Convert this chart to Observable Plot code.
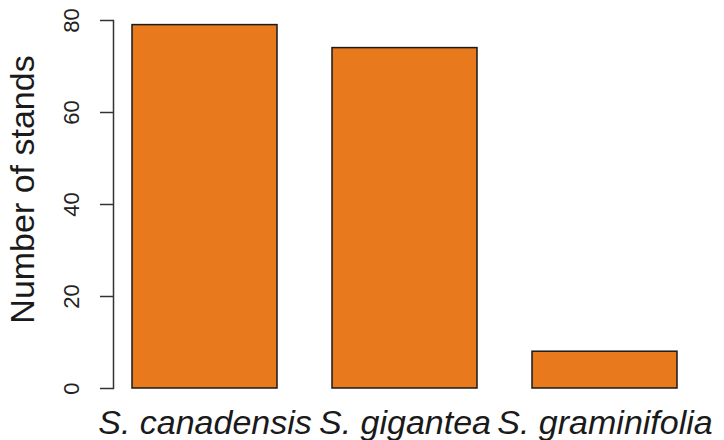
<!DOCTYPE html>
<html>
<head>
<meta charset="utf-8">
<script src="https://cdn.jsdelivr.net/npm/d3@7"></script>
<script src="https://cdn.jsdelivr.net/npm/@observablehq/plot@0.6"></script>
<style>
  html, body { margin: 0; padding: 0; background: #fff; }
  #chart svg { display: block; font-family: "Liberation Sans", Arial, Helvetica, sans-serif; }
</style>
</head>
<body>
<div id="chart"></div>
<script>
const species = ["S. canadensis", "S. gigantea", "S. graminifolia"];
const stands = [79, 74, 8];
const yTicks = [0, 20, 40, 60, 80];
const yLabel = "Number of stands";

const data = species.map((s, i) => ({species: s, n: stands[i]}));

const chart = Plot.plot({
  width: 724,
  height: 440,
  marginLeft: 113,
  marginRight: 28,
  marginTop: 20,
  marginBottom: 52,
  style: {fontFamily: '"Liberation Sans", Arial, Helvetica, sans-serif', background: "#fff"},
  x: {domain: species, paddingInner: 0.275, paddingOuter: 0.095, label: null},
  y: {domain: [0, 80], label: null},
  marks: [
    Plot.barY(data, {x: "species", y: "n", fill: "#E8791C", stroke: "#1a1a1a", strokeWidth: 1.5}),
    Plot.frame({anchor: "left", stroke: "#333", strokeWidth: 1.5}),
    Plot.axisY({ticks: yTicks, tickSize: 13, tickPadding: 22, tickRotate: -90, fontSize: 22, stroke: "#333", strokeWidth: 1.5, label: null, fill: "#222"}),
    Plot.axisX({tickSize: 0, tickPadding: 21, fontSize: 34, fontStyle: "italic", label: null, fill: "#1a1a1a"}),
    Plot.text([yLabel], {frameAnchor: "left", textAnchor: "middle", rotate: -90, dx: -90, dy: -15, fontSize: 34, fill: "#1a1a1a", text: d => d})
  ]
});
document.getElementById("chart").appendChild(chart);
</script>
</body>
</html>
